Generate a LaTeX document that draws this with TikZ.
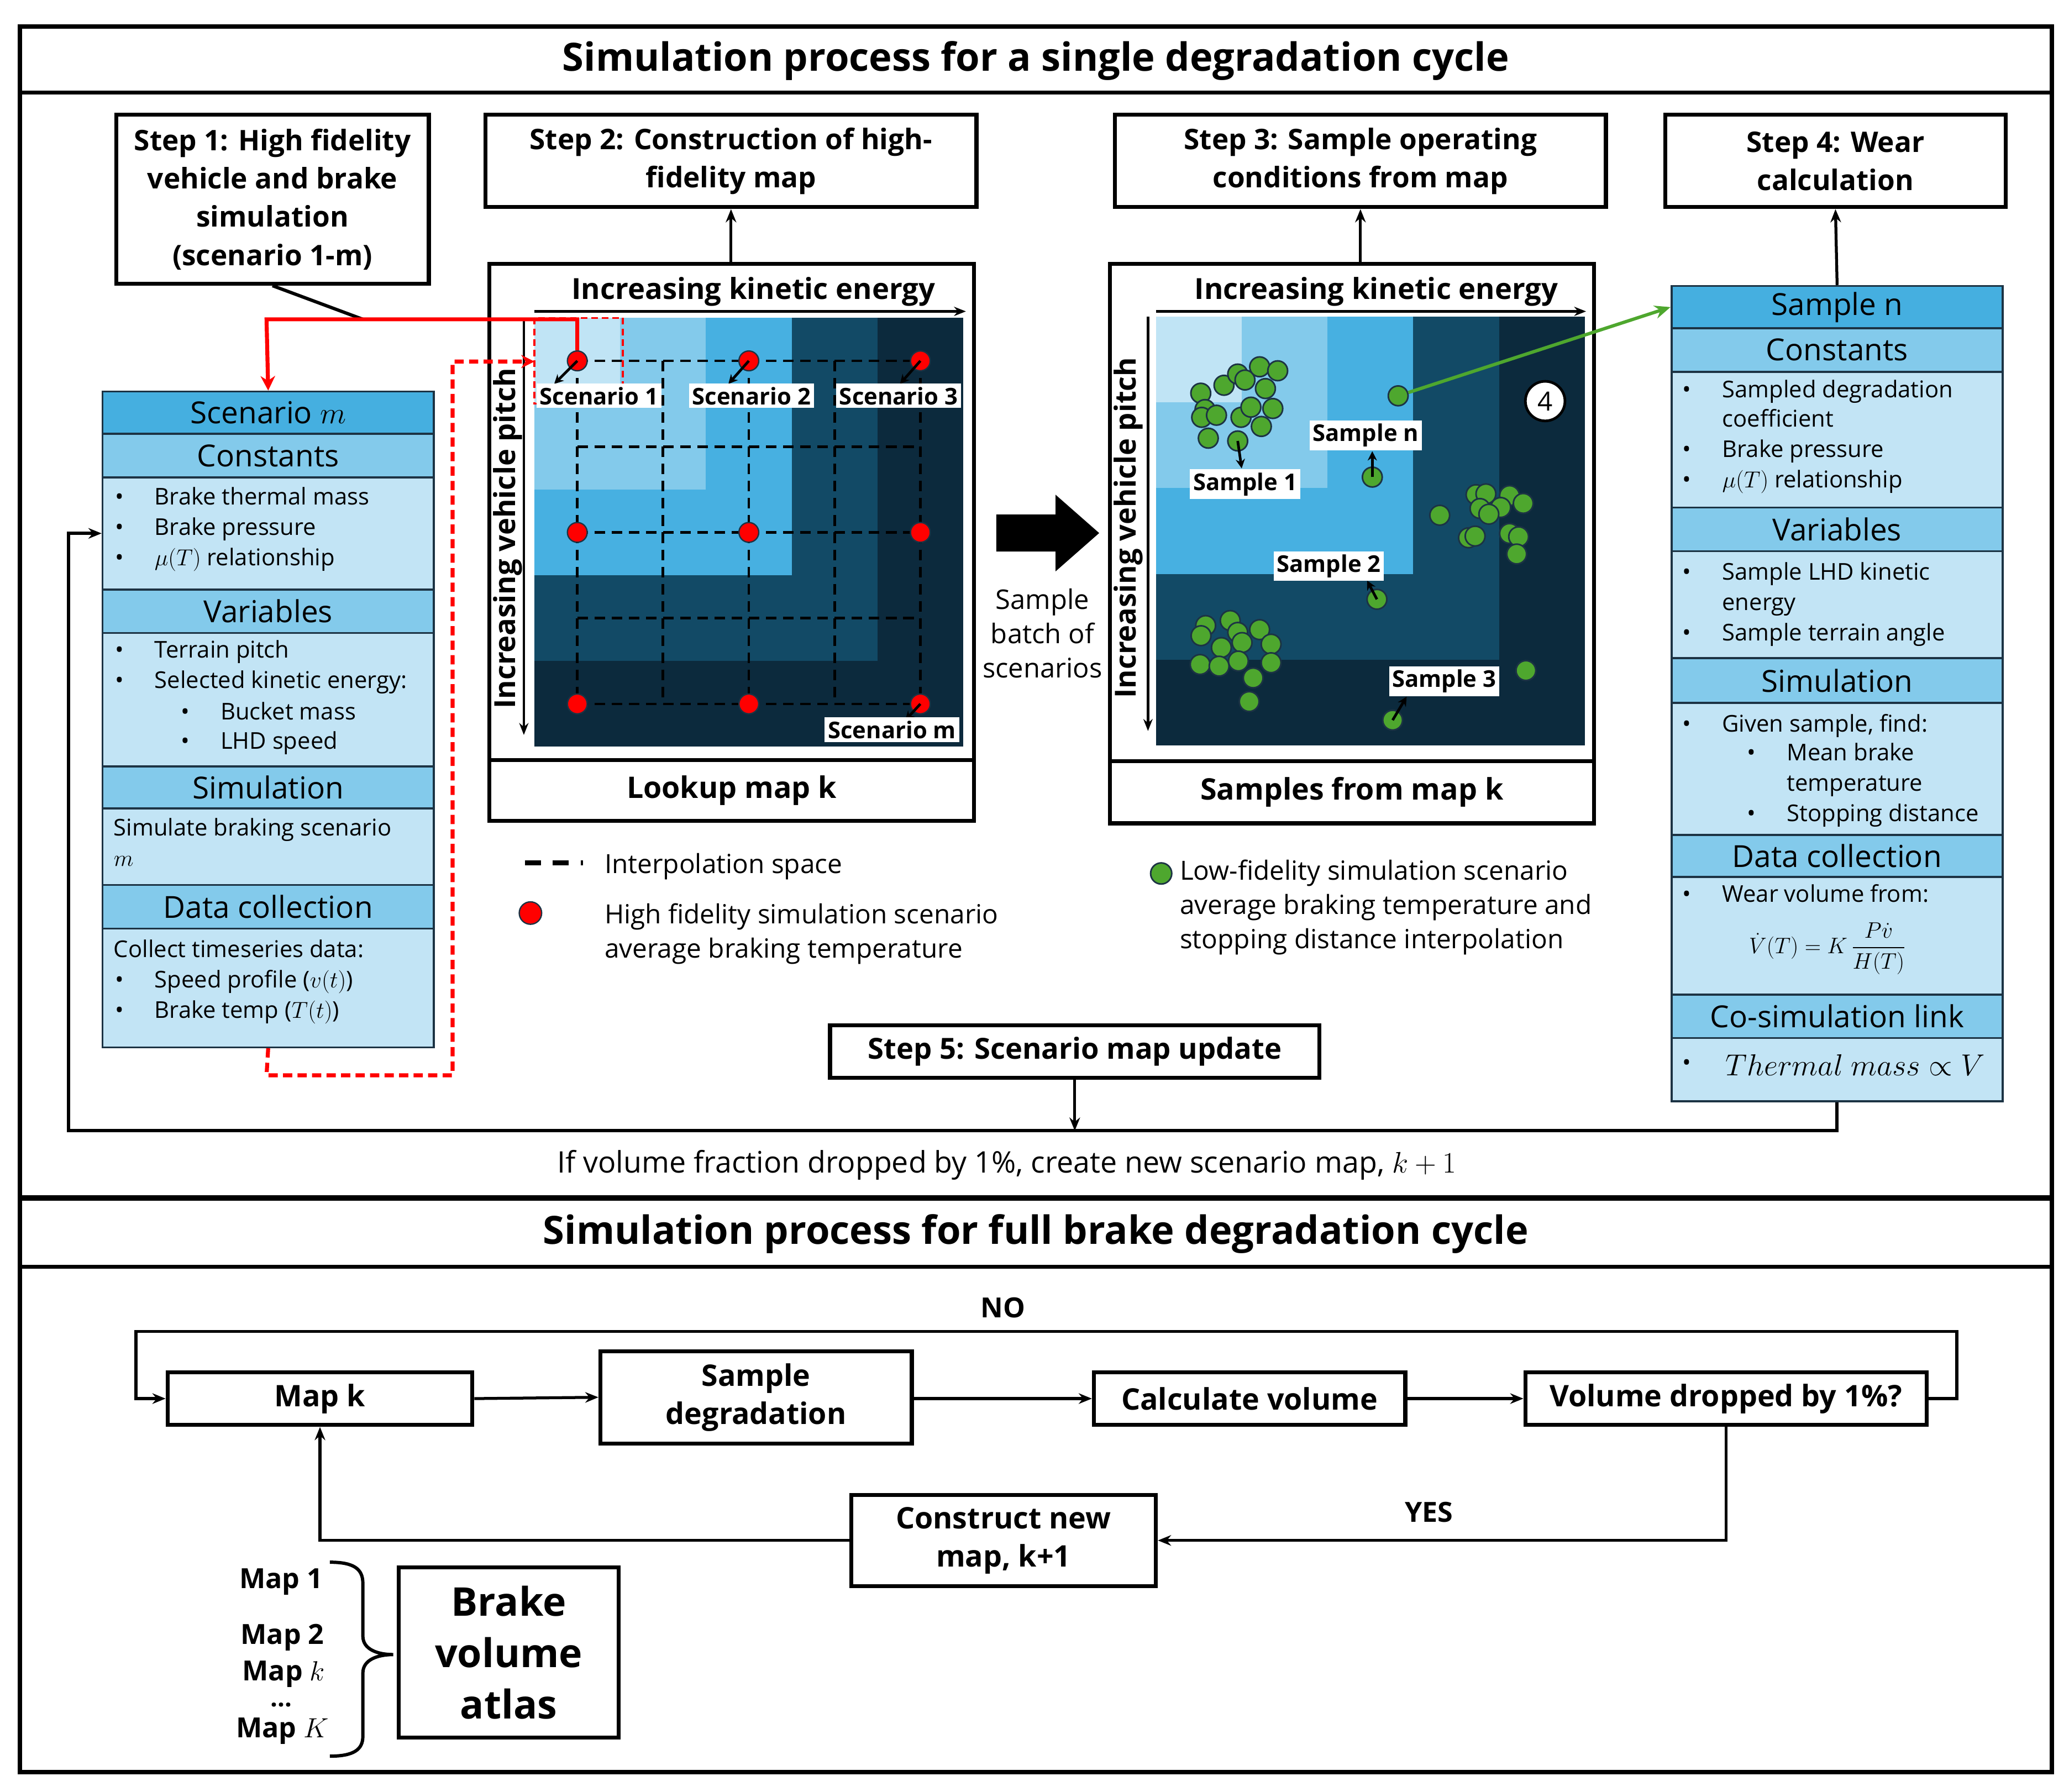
\documentclass[tikz,border=0pt]{standalone}
\usepackage{fix-cm}
\usepackage{amsmath}
\usepackage{fontspec}
\setmainfont{Open Sans}
\usetikzlibrary{arrows.meta}
\definecolor{hm0}{HTML}{C0E4F5}
\definecolor{hm1}{HTML}{83CAEB}
\definecolor{hm2}{HTML}{47B0E1}
\definecolor{hm3}{HTML}{124A66}
\definecolor{hm4}{HTML}{0C2A3D}
\definecolor{phead}{HTML}{45AFE0}
\definecolor{pband}{HTML}{83CAEB}
\definecolor{pbody}{HTML}{C2E4F5}
\definecolor{pline}{HTML}{1C3344}
\definecolor{dotgreen}{HTML}{4EA72E}
\newcommand\fs[2]{\fontsize{#1}{#2}\selectfont}
\newcommand\bitem[5]{\node[btxt] (#1b) at (#2,#4) {\textbullet};\node[btxt] (#1) at (#3,#4) {#5};}
\newcommand\heatmap[2]{\foreach \i in {0,...,4}{\foreach \j in {0,...,4}{\pgfmathtruncatemacro\mm{max(\i,\j)}\fill[fill=hm\mm] ({#1+65*\i},{#2+65*\j}) rectangle ++(65,65);}}}
\begin{document}
\begin{tikzpicture}[x=1pt,y=-1pt,
  stepbox/.style={draw=black, line width=3pt, fill=white, inner sep=0pt, align=center, font=\bfseries\fs{21.5}{29}},
  mapbox/.style={draw=black, line width=3pt, fill=white, inner sep=0pt},
  maplabel/.style={draw=black, line width=3pt, fill=white, inner sep=0pt, font=\bfseries\fs{22.5}{26}},
  flowbox/.style={draw=black, line width=3pt, fill=white, inner sep=0pt, align=center, font=\bfseries\fs{22.5}{29}},
  phd/.style={draw=pline, line width=1.5pt, fill=phead, anchor=north west, minimum width=251pt, inner sep=0pt, font=\fs{23}{26}},
  pbd/.style={phd, fill=pband},
  pby/.style={phd, fill=pbody},
  btxt/.style={anchor=west, inner sep=0pt, font=\fs{17.5}{20}, text height=13pt, text depth=4pt},
  ltxt/.style={anchor=west, inner sep=0pt, font=\fs{20}{22}, text height=14pt, text depth=4pt},
  reddot/.style={circle, fill=red, draw=pline, line width=1pt, minimum size=15pt, inner sep=0pt},
  gdot/.style={circle, fill=dotgreen, draw=pline, line width=1.2pt, minimum size=15pt, inner sep=0pt},
  lbl/.style={fill=white, inner sep=2.5pt, font=\bfseries\fs{17.5}{19}},
  griddash/.style={line width=2pt, dash pattern=on 8pt off 5pt},
  arr/.style={line width=2.2pt, -{Stealth[length=10pt,width=8pt]}},
  smallarr/.style={line width=2pt, -{Stealth[length=7pt,width=7pt]}},
  axarr/.style={line width=2pt, -{Stealth[length=9pt,width=7pt]}},
  axlabel/.style={font=\bfseries\fs{22}{24}, inner sep=0pt}
]
\useasboundingbox[fill=white] (0,0) rectangle (1568,1358);
% ---------- frame ----------
\draw[line width=3.5pt] (15,20) rectangle (1555,1343);
\draw[line width=3pt] (15,70) -- (1555,70);
\draw[line width=4pt] (15,908) -- (1555,908);
\draw[line width=3pt] (15,960) -- (1555,960);
\node[font=\bfseries\fs{29.5}{32}] (title1) at (785,46) {Simulation process for a single degradation cycle};
\node[font=\bfseries\fs{29.5}{32}] (title2) at (785,935) {Simulation process for full brake degradation cycle};
% ---------- steps ----------
\node[stepbox, minimum width=237pt, minimum height=128pt] (step1) at (206.5,151) {Step 1: High fidelity\\vehicle and brake\\simulation\\(scenario 1-m)};
\node[stepbox, minimum width=372pt, minimum height=70pt] (step2) at (554,122) {Step 2: Construction of high-\\fidelity map};
\node[stepbox, minimum width=372pt, minimum height=70pt] (step3) at (1031,122) {Step 3: Sample operating\\conditions from map};
\node[stepbox, minimum width=258pt, minimum height=70pt] (step4) at (1391,122) {Step 4: Wear\\calculation};
% ---------- left panel ----------
\node[phd, minimum height=32pt] (LA) at (77,296) {Scenario $m$};
\node[pbd, minimum height=33pt] (LBh) at (77,328) {Constants};
\node[pby, minimum height=85pt] (LB) at (77,361) {};
\node[pbd, minimum height=33pt] (LCh) at (77,446) {Variables};
\node[pby, minimum height=101pt] (LC) at (77,479) {};
\node[pbd, minimum height=32pt] (LDh) at (77,580) {Simulation};
\node[pby, minimum height=58pt] (LD) at (77,612) {};
\node[pbd, minimum height=33pt] (LEh) at (77,670) {Data collection};
\node[pby, minimum height=90pt] (LE) at (77,703) {};
\bitem{l1}{87}{117}{378}{Brake thermal mass}
\bitem{l2}{87}{117}{401}{Brake pressure}
\bitem{l3}{87}{117}{424}{$\mu(T)$ relationship}
\bitem{l4}{87}{117}{494}{Terrain pitch}
\bitem{l5}{87}{117}{517}{Selected kinetic energy:}
\bitem{l6}{137}{167}{541}{Bucket mass}
\bitem{l7}{137}{167}{563}{LHD speed}
\node[btxt] (l8) at (86,629) {Simulate braking scenario};
\node[btxt] (l9) at (86,652) {$m$};
\node[btxt] (l10) at (86,721) {Collect timeseries data:};
\bitem{l11}{87}{117}{744}{Speed profile ($v(t)$)}
\bitem{l12}{87}{117}{767}{Brake temp ($T(t)$)}
% ---------- lookup map ----------
\node[mapbox, minimum width=367pt, minimum height=376pt] (lk) at (554.5,388) {};
\node[maplabel, minimum width=367pt, minimum height=46pt] (lkl) at (554.5,599) {Lookup map k};
\heatmap{405}{241}
\foreach \k in {0,...,4}{
  \draw[griddash] ({437.5+65*\k},273.5) -- ({437.5+65*\k},533.5);
  \draw[griddash] (437.5,{273.5+65*\k}) -- (697.5,{273.5+65*\k});
}
\draw[axarr] (405,236) -- (732,236);
\draw[axarr] (397,241) -- (397,557);
\node[axlabel] (lkx) at (571,221) {Increasing kinetic energy};
\node[axlabel, rotate=90] (lky) at (385,408) {Increasing vehicle pitch};
\draw[red, line width=1.5pt, dash pattern=on 5pt off 3pt] (405,241) rectangle (472,306);
\foreach \a in {0,1,2}{\foreach \b in {0,1,2}{\node[reddot] (d\a\b) at ({437.5+130*\a},{273.5+130*\b}) {};}}
\coordinate (a1) at (420,291);
\coordinate (a2) at (552,291);
\coordinate (a3) at (682,291);
\coordinate (a4) at (686,546);
\draw[smallarr] (d00.center) -- (a1);
\draw[smallarr] (d10.center) -- (a2);
\draw[smallarr] (d20.center) -- (a3);
\draw[smallarr] (d22.center) -- (a4);
\node[lbl] (sc1) at (454,300) {Scenario 1};
\node[lbl] (sc2) at (569.5,300) {Scenario 2};
\node[lbl] (sc3) at (681,300) {Scenario 3};
\node[lbl] (scm) at (676,553) {Scenario m};
% red connectors
\coordinate (j1) at (275,242);
\draw[line width=2.5pt] (step1.south) -- (j1);
\draw[red, line width=3pt, {Stealth[length=11pt,width=11pt]}-] (LA.north) -- (202,242) -| (d00.north);
\coordinate (lkin) at (405,274);
\draw[red, line width=3pt, dash pattern=on 7pt off 4pt, -{Stealth[length=10pt,width=10pt]}] (LE.south) -- (202,815) -- (343,815) -- (343,274) -- (lkin);
% ---------- big arrow ----------
\fill (755,390) -- (800,390) -- (800,375) -- (833,404) -- (800,433) -- (800,418) -- (755,418) -- cycle;
\node[align=center, font=\fs{20.5}{26}] (batch) at (790,480) {Sample\\batch of\\scenarios};
% ---------- samples map ----------
\node[mapbox, minimum width=367pt, minimum height=377pt] (sf) at (1024.5,388.5) {};
\node[maplabel, minimum width=367pt, minimum height=47pt] (sfl) at (1024.5,600.5) {Samples from map k};
\heatmap{876}{240}
\draw[axarr] (876,236) -- (1202,236);
\draw[axarr] (870,240) -- (870,554);
\node[axlabel] (sfx) at (1043,221) {Increasing kinetic energy};
\node[axlabel, rotate=90] (sfy) at (855,400) {Increasing vehicle pitch};
\foreach \p [count=\c] in {(910,298),(927.6,292),(938,283.5),(943.5,288),(954.6,278),(968.3,281),(959,294.5),(913.2,310.4),(910.7,316.3),(921.9,314.7),(940.5,316.3),(948,308.6),(964.6,309.6),(955.9,323.2),(915.7,332.1),
 (1118.6,374.9),(1126.1,374.3),(1144,375.6),(1154.4,381.5),(1121.6,385.4),(1137.3,384.6),(1128.3,389.7),(1091.1,390.5),(1112.9,407.6),(1117.9,406.3),(1144,404.3),(1150.9,406.8),(1149.4,419.9),
 (913.7,474.1),(910.2,481.8),(932.3,470.3),(938,479.3),(954.6,477.2),(925.6,490.8),(941.3,487),(963.3,488.2),(909.5,503.6),(923.9,504.9),(938.5,501),(963.3,502.3),(949.7,513.8),(946.7,531.7)}
 {\node[gdot] (g\c) at \p {};}
\node[gdot] (gs1) at (938,334.2) {};
\node[gdot] (gn) at (1059.6,300) {};
\node[gdot] (gn2) at (1040,361.6) {};
\node[gdot] (gs2) at (1043.5,454.2) {};
\node[gdot] (gs3) at (1055.4,545.8) {};
\node[gdot] (gx) at (1156.4,508.2) {};
\coordinate (b1) at (941,355);
\coordinate (b2) at (1040,342);
\coordinate (b3) at (1036,440);
\coordinate (b4) at (1066,528);
\draw[smallarr] (gs1.center) -- (b1);
\draw[smallarr] (gn2.center) -- (b2);
\draw[smallarr] (gs2.center) -- (b3);
\draw[smallarr] (gs3.center) -- (b4);
\node[lbl] (sm1) at (943.6,367) {Sample 1};
\node[lbl] (smn) at (1035,330) {Sample n};
\node[lbl] (sm2) at (1007,429) {Sample 2};
\node[lbl] (sm3) at (1094.5,516.4) {Sample 3};
\node[circle, draw=black, line width=2pt, fill=white, minimum size=30pt, inner sep=0pt, font=\fs{20}{24}] (c4) at (1171,304) {4};
% ---------- right panel ----------
\node[phd, minimum height=32pt] (RA) at (1266,216) {Sample n};
\node[pbd, minimum height=33pt] (RBh) at (1266,248) {Constants};
\node[pby, minimum height=103pt] (RB) at (1266,281) {};
\node[pbd, minimum height=33pt] (RCh) at (1266,384) {Variables};
\node[pby, minimum height=81pt] (RC) at (1266,417) {};
\node[pbd, minimum height=34pt] (RDh) at (1266,498) {Simulation};
\node[pby, minimum height=100pt] (RD) at (1266,532) {};
\node[pbd, minimum height=32pt] (REh) at (1266,632) {Data collection};
\node[pby, minimum height=89pt] (RE) at (1266,664) {};
\node[pbd, minimum height=33pt] (RFh) at (1266,753) {Co-simulation link};
\node[pby, minimum height=48pt] (RF) at (1266,786) {};
\draw[draw=dotgreen, line width=2.5pt, -{Stealth[length=12pt,width=10pt]}] (gn) -- (RA.west);
\bitem{r1}{1275}{1305}{297}{Sampled degradation}
\node[btxt] (r2) at (1305,319) {coefficient};
\bitem{r3}{1275}{1305}{342}{Brake pressure}
\bitem{r4}{1275}{1305}{365}{$\mu(T)$ relationship}
\bitem{r5}{1275}{1305}{435}{Sample LHD kinetic}
\node[btxt] (r6) at (1305,458) {energy};
\bitem{r7}{1275}{1305}{481}{Sample terrain angle}
\bitem{r8}{1275}{1305}{550}{Given sample, find:}
\bitem{r9}{1324}{1354}{572}{Mean brake}
\node[btxt] (r10) at (1354,595) {temperature};
\bitem{r11}{1324}{1354}{618}{Stopping distance}
\bitem{r12}{1275}{1305}{679}{Wear volume from:}
\node[inner sep=0pt, font=\fs{17}{20}] (form) at (1385,719) {$\dot{V}(T) = K\,\dfrac{P\dot{v}}{H(T)}$};
\node[btxt] (r13b) at (1275,807) {\textbullet};
\node[inner sep=0pt, font=\fs{23}{26}] (r13) at (1406,807) {$Thermal\ mass \propto V$};
% ---------- step arrows ----------
\draw[arr] (step2.south |- lk.north) -- (step2.south);
\draw[arr] (step3.south |- sf.north) -- (step3.south);
\draw[arr] (RA.north) -- (step4.south);
% ---------- step 5 / loop ----------
\node[stepbox, font=\bfseries\fs{22}{24}, minimum width=371pt, minimum height=40pt] (step5) at (814.5,797) {Step 5: Scenario map update};
\draw[line width=2.5pt, -{Stealth[length=10pt,width=8pt]}] (RF.south) |- (52,857) |- (LB.west);
\coordinate (s5end) at (814.5,857);
\draw[arr] (step5.south) -- (s5end);
\node[font=\fs{22.5}{24}] (ifvol) at (763,883) {If volume fraction dropped by 1\%, create new scenario map, $k+1$};
% ---------- legend ----------
\draw[line width=3.5pt, dash pattern=on 12pt off 9pt] (398,654) -- (442,654);
\node[ltxt] (lg1) at (458,657) {Interpolation space};
\node[reddot, minimum size=17pt] (lgd) at (402,692) {};
\node[ltxt] (lg2) at (458,695) {High fidelity simulation scenario};
\node[ltxt] (lg3) at (458,721) {average braking temperature};
\node[gdot, minimum size=16pt] (lgg) at (880,662) {};
\node[ltxt] (lg4) at (894,662) {Low-fidelity simulation scenario};
\node[ltxt] (lg5) at (894,688) {average braking temperature and};
\node[ltxt] (lg6) at (894,714) {stopping distance interpolation};
% ---------- bottom flow ----------
\node[flowbox, minimum width=231pt, minimum height=40pt] (mapk) at (242.5,1060) {Map k};
\node[flowbox, minimum width=236pt, minimum height=70pt] (sdeg) at (573,1059) {Sample\\degradation};
\node[flowbox, minimum width=236pt, minimum height=40pt] (calc) at (947,1060) {Calculate volume};
\node[flowbox, minimum width=304pt, minimum height=40pt] (vol) at (1308,1060) {Volume dropped by 1\%?};
\node[flowbox, minimum width=231pt, minimum height=69pt] (newmap) at (760.5,1167.5) {Construct new\\map, k+1};
\node[flowbox, font=\bfseries\fs{30}{39}, minimum width=167pt, minimum height=129pt] (atlas) at (385.5,1252.5) {Brake\\volume\\atlas};
\draw[arr] (mapk.east) -- (sdeg.west);
\draw[arr] (sdeg.east |- mapk.east) -- (calc.west);
\draw[arr] (calc.east) -- (vol.west);
\draw[arr] (vol.east) -- (1483,1060) -- (1483,1009) -- (103,1009) -- (103,1060) -- (mapk.west);
\draw[arr] (vol.south) |- (newmap.east);
\draw[arr] (newmap.west) -| (mapk.south);
\node[font=\bfseries\fs{21}{24}] (no) at (760,991) {NO};
\node[font=\bfseries\fs{21}{24}] (yes) at (1083,1146) {YES};
\node[font=\bfseries\fs{21}{22}, inner sep=0pt] (m1) at (213,1199) {Map 1};
\node[font=\bfseries\fs{21}{22}, inner sep=0pt] (m2) at (214,1241) {Map 2};
\node[font=\bfseries\fs{21}{22}, inner sep=0pt] (m3) at (215,1269) {Map $k$};
\node[font=\bfseries\fs{19}{20}, inner sep=0pt] (m4) at (213,1292) {...};
\node[font=\bfseries\fs{21}{22}, inner sep=0pt] (m5) at (214,1312) {Map $K$};
\draw[line width=2.5pt] (250,1184) .. controls (268,1184) and (275,1189) .. (275,1200) -- (275,1240) .. controls (275,1250) and (286,1254) .. (298,1254) .. controls (286,1254) and (275,1258) .. (275,1268) -- (275,1316) .. controls (275,1326) and (268,1331) .. (250,1331);
\end{tikzpicture}
\end{document}
